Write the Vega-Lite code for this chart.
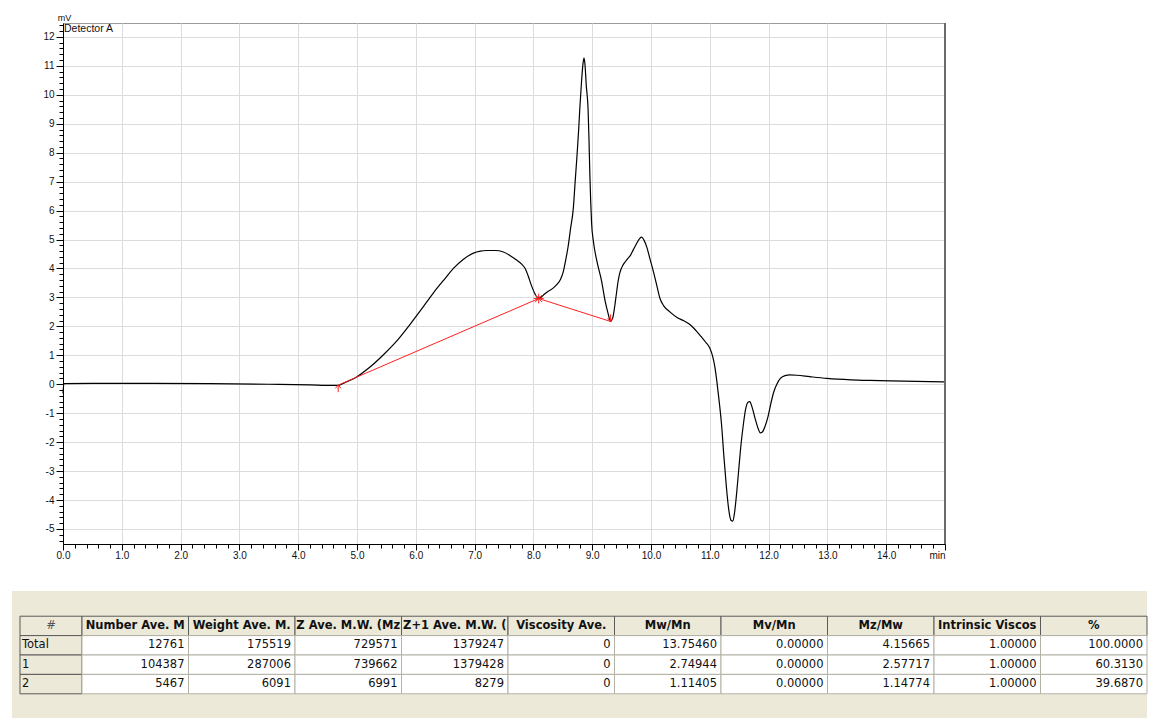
{
  "$schema": "https://vega.github.io/schema/vega-lite/v6.json",
  "padding": {"left": 12, "top": 12, "right": 0, "bottom": 0},
  "background": "white",
  "spacing": 30,
  "config": {"view": {"stroke": null}},
  "datasets": {
    "trace": [
      {"t": 0, "mV": -0.32}, {"t": 0.015, "mV": 0.02}, {"t": 0.5, "mV": 0.03}, {"t": 1.5, "mV": 0.03},
      {"t": 2.5, "mV": 0.02}, {"t": 3.5, "mV": 0.0}, {"t": 4.2, "mV": -0.02}, {"t": 4.55, "mV": -0.04},
      {"t": 4.68, "mV": -0.04}, {"t": 4.8, "mV": 0.06}, {"t": 5.0, "mV": 0.26}, {"t": 5.2, "mV": 0.56},
      {"t": 5.45, "mV": 1.02}, {"t": 5.7, "mV": 1.55}, {"t": 5.9, "mV": 2.06}, {"t": 6.1, "mV": 2.6},
      {"t": 6.3, "mV": 3.16}, {"t": 6.5, "mV": 3.66}, {"t": 6.64, "mV": 4.0}, {"t": 6.8, "mV": 4.3},
      {"t": 6.98, "mV": 4.53}, {"t": 7.1, "mV": 4.6}, {"t": 7.2, "mV": 4.62}, {"t": 7.35, "mV": 4.62},
      {"t": 7.49, "mV": 4.57}, {"t": 7.6, "mV": 4.45}, {"t": 7.72, "mV": 4.28}, {"t": 7.8, "mV": 4.15},
      {"t": 7.86, "mV": 4.0}, {"t": 7.91, "mV": 3.75}, {"t": 7.96, "mV": 3.45}, {"t": 8.02, "mV": 3.15},
      {"t": 8.07, "mV": 3.0}, {"t": 8.12, "mV": 3.0}, {"t": 8.19, "mV": 3.12}, {"t": 8.26, "mV": 3.22},
      {"t": 8.34, "mV": 3.33}, {"t": 8.4, "mV": 3.45}, {"t": 8.46, "mV": 3.62}, {"t": 8.51, "mV": 3.9},
      {"t": 8.55, "mV": 4.3}, {"t": 8.59, "mV": 4.75}, {"t": 8.63, "mV": 5.35}, {"t": 8.68, "mV": 6.1},
      {"t": 8.71, "mV": 7.0}, {"t": 8.74, "mV": 7.85}, {"t": 8.77, "mV": 8.8}, {"t": 8.79, "mV": 9.55},
      {"t": 8.82, "mV": 10.5}, {"t": 8.845, "mV": 11.1}, {"t": 8.86, "mV": 11.27}, {"t": 8.875, "mV": 11.1},
      {"t": 8.9, "mV": 10.3}, {"t": 8.93, "mV": 9.5}, {"t": 8.945, "mV": 8.5}, {"t": 8.96, "mV": 7.25},
      {"t": 8.975, "mV": 6.3}, {"t": 8.99, "mV": 5.55}, {"t": 9.02, "mV": 4.94}, {"t": 9.08, "mV": 4.25},
      {"t": 9.16, "mV": 3.56}, {"t": 9.22, "mV": 2.87}, {"t": 9.27, "mV": 2.45}, {"t": 9.31, "mV": 2.17},
      {"t": 9.35, "mV": 2.3}, {"t": 9.38, "mV": 2.65}, {"t": 9.41, "mV": 3.1}, {"t": 9.44, "mV": 3.55},
      {"t": 9.47, "mV": 3.85}, {"t": 9.5, "mV": 4.02}, {"t": 9.55, "mV": 4.2}, {"t": 9.6, "mV": 4.33},
      {"t": 9.65, "mV": 4.45}, {"t": 9.7, "mV": 4.65}, {"t": 9.76, "mV": 4.88}, {"t": 9.81, "mV": 5.04},
      {"t": 9.84, "mV": 5.08}, {"t": 9.88, "mV": 4.98}, {"t": 9.93, "mV": 4.73}, {"t": 9.98, "mV": 4.35},
      {"t": 10.04, "mV": 3.9}, {"t": 10.1, "mV": 3.4}, {"t": 10.15, "mV": 2.98}, {"t": 10.22, "mV": 2.7},
      {"t": 10.32, "mV": 2.5}, {"t": 10.45, "mV": 2.3}, {"t": 10.55, "mV": 2.2}, {"t": 10.65, "mV": 2.08},
      {"t": 10.72, "mV": 1.95}, {"t": 10.78, "mV": 1.82}, {"t": 10.85, "mV": 1.65}, {"t": 10.93, "mV": 1.45},
      {"t": 11.0, "mV": 1.25}, {"t": 11.05, "mV": 0.95}, {"t": 11.09, "mV": 0.55}, {"t": 11.12, "mV": 0.1},
      {"t": 11.16, "mV": -0.6}, {"t": 11.2, "mV": -1.4}, {"t": 11.24, "mV": -2.5}, {"t": 11.28, "mV": -3.5},
      {"t": 11.32, "mV": -4.3}, {"t": 11.36, "mV": -4.7}, {"t": 11.39, "mV": -4.73}, {"t": 11.42, "mV": -4.45},
      {"t": 11.45, "mV": -3.9}, {"t": 11.49, "mV": -3.0}, {"t": 11.53, "mV": -2.1}, {"t": 11.57, "mV": -1.4},
      {"t": 11.61, "mV": -0.85}, {"t": 11.65, "mV": -0.62}, {"t": 11.68, "mV": -0.6}, {"t": 11.72, "mV": -0.8},
      {"t": 11.77, "mV": -1.18}, {"t": 11.82, "mV": -1.52}, {"t": 11.86, "mV": -1.68}, {"t": 11.89, "mV": -1.66},
      {"t": 11.94, "mV": -1.45}, {"t": 11.99, "mV": -1.12}, {"t": 12.04, "mV": -0.65}, {"t": 12.09, "mV": -0.25},
      {"t": 12.14, "mV": 0.0}, {"t": 12.2, "mV": 0.2}, {"t": 12.28, "mV": 0.3}, {"t": 12.36, "mV": 0.32},
      {"t": 12.48, "mV": 0.31}, {"t": 12.7, "mV": 0.26}, {"t": 12.99, "mV": 0.2}, {"t": 13.4, "mV": 0.15},
      {"t": 13.72, "mV": 0.13}, {"t": 14.3, "mV": 0.11}, {"t": 15.0, "mV": 0.08}
    ],
    "baseline": [
      {"t": 4.68, "mV": -0.03, "kind": "start"},
      {"t": 8.09, "mV": 2.96, "kind": "mid"},
      {"t": 9.31, "mV": 2.17, "kind": "end"}
    ],
    "headers": [
      {"row": "#", "col": "c1", "label": "Number Ave. M"},
      {"row": "#", "col": "c2", "label": "Weight Ave. M."},
      {"row": "#", "col": "c3", "label": "Z Ave. M.W. (Mz"},
      {"row": "#", "col": "c4", "label": "Z+1 Ave. M.W. ("},
      {"row": "#", "col": "c5", "label": "Viscosity Ave."},
      {"row": "#", "col": "c6", "label": "Mw/Mn"},
      {"row": "#", "col": "c7", "label": "Mv/Mn"},
      {"row": "#", "col": "c8", "label": "Mz/Mw"},
      {"row": "#", "col": "c9", "label": "Intrinsic Viscos"},
      {"row": "#", "col": "c10", "label": "%"}
    ],
    "rowlabels": [
      {"row": "#", "col": "#", "label": "#"},
      {"row": "Total", "col": "#", "label": "Total"},
      {"row": "1", "col": "#", "label": "1"},
      {"row": "2", "col": "#", "label": "2"}
    ],
    "cells": [
      {"row": "Total", "col": "c1", "value": "12761"},
      {"row": "Total", "col": "c2", "value": "175519"},
      {"row": "Total", "col": "c3", "value": "729571"},
      {"row": "Total", "col": "c4", "value": "1379247"},
      {"row": "Total", "col": "c5", "value": "0"},
      {"row": "Total", "col": "c6", "value": "13.75460"},
      {"row": "Total", "col": "c7", "value": "0.00000"},
      {"row": "Total", "col": "c8", "value": "4.15665"},
      {"row": "Total", "col": "c9", "value": "1.00000"},
      {"row": "Total", "col": "c10", "value": "100.0000"},
      {"row": "1", "col": "c1", "value": "104387"},
      {"row": "1", "col": "c2", "value": "287006"},
      {"row": "1", "col": "c3", "value": "739662"},
      {"row": "1", "col": "c4", "value": "1379428"},
      {"row": "1", "col": "c5", "value": "0"},
      {"row": "1", "col": "c6", "value": "2.74944"},
      {"row": "1", "col": "c7", "value": "0.00000"},
      {"row": "1", "col": "c8", "value": "2.57717"},
      {"row": "1", "col": "c9", "value": "1.00000"},
      {"row": "1", "col": "c10", "value": "60.3130"},
      {"row": "2", "col": "c1", "value": "5467"},
      {"row": "2", "col": "c2", "value": "6091"},
      {"row": "2", "col": "c3", "value": "6991"},
      {"row": "2", "col": "c4", "value": "8279"},
      {"row": "2", "col": "c5", "value": "0"},
      {"row": "2", "col": "c6", "value": "1.11405"},
      {"row": "2", "col": "c7", "value": "0.00000"},
      {"row": "2", "col": "c8", "value": "1.14774"},
      {"row": "2", "col": "c9", "value": "1.00000"},
      {"row": "2", "col": "c10", "value": "39.6870"}
    ]
  },
  "vconcat": [
    {
      "spacing": 0,
      "hconcat": [
        {
          "width": 30, "height": 10,
          "data": {"values": [{}]},
          "mark": {"type": "text", "text": ""},
          "view": {"stroke": null}
        },
        {
          "width": 882, "height": 521,
          "view": {"stroke": "#9a9a9a", "fill": "white"},
          "layer": [
            {
              "data": {"name": "trace"},
              "mark": {"type": "line", "color": "black", "strokeWidth": 1.2, "interpolate": "monotone"},
              "encoding": {
                "x": {
                  "field": "t", "type": "quantitative",
                  "scale": {"domain": [0, 15], "nice": false, "zero": false},
                  "axis": {
                    "title": null,
                    "tickCount": 1000,
                    "values": [0,0.2,0.4,0.6,0.8,1,1.2,1.4,1.6,1.8,2,2.2,2.4,2.6,2.8,3,3.2,3.4,3.6,3.8,4,4.2,4.4,4.6,4.8,5,5.2,5.4,5.6,5.8,6,6.2,6.4,6.6,6.8,7,7.2,7.4,7.6,7.8,8,8.2,8.4,8.6,8.8,9,9.2,9.4,9.6,9.8,10,10.2,10.4,10.6,10.8,11,11.2,11.4,11.6,11.8,12,12.2,12.4,12.6,12.8,13,13.2,13.4,13.6,13.8,14,14.2,14.4,14.6,14.8,15],
                    "labelExpr": "datum.value > 14.99 ? 'min' : (abs(datum.value - round(datum.value)) < 0.001 ? format(datum.value, '.1f') : '')",
                    "labelOverlap": false,
                    "labelFlush": false,
                    "labelAlign": {"condition": {"test": "datum.value > 14.99", "value": "right"}, "value": "center"},
                    "labelFont": "Liberation Sans",
                    "labelFontSize": 10,
                    "labelColor": "#111",
                    "labelPadding": 0,
                    "domainColor": "black",
                    "domainWidth": 1,
                    "tickColor": "black",
                    "tickSize": {"condition": {"test": "abs(datum.value - round(datum.value)) < 0.001", "value": 6}, "value": 4},
                    "grid": true,
                    "gridColor": "#dcdcdc",
                    "gridOpacity": {"condition": {"test": "abs(datum.value - round(datum.value)) < 0.001 && datum.value > 0.01 && datum.value < 14.99", "value": 1}, "value": 0}
                  }
                },
                "y": {
                  "field": "mV", "type": "quantitative",
                  "scale": {"domain": [-5.52, 12.48], "nice": false, "zero": false},
                  "axis": {
                    "title": "mV",
                    "titleAngle": 0,
                    "titleX": 1,
                    "titleY": -3,
                    "titleAlign": "center",
                    "titleBaseline": "alphabetic",
                    "titleFont": "Liberation Sans",
                    "titleFontSize": 9,
                    "titleFontWeight": "normal",
                    "titleColor": "#111",
                    "tickCount": 1000,
                    "values": [-5.4,-5.2,-5,-4.8,-4.6,-4.4,-4.2,-4,-3.8,-3.6,-3.4,-3.2,-3,-2.8,-2.6,-2.4,-2.2,-2,-1.8,-1.6,-1.4,-1.2,-1,-0.8,-0.6,-0.4,-0.2,0,0.2,0.4,0.6,0.8,1,1.2,1.4,1.6,1.8,2,2.2,2.4,2.6,2.8,3,3.2,3.4,3.6,3.8,4,4.2,4.4,4.6,4.8,5,5.2,5.4,5.6,5.8,6,6.2,6.4,6.6,6.8,7,7.2,7.4,7.6,7.8,8,8.2,8.4,8.6,8.8,9,9.2,9.4,9.6,9.8,10,10.2,10.4,10.6,10.8,11,11.2,11.4,11.6,11.8,12,12.2,12.4],
                    "labelExpr": "abs(datum.value - round(datum.value)) < 0.001 ? '' + round(datum.value) : ''",
                    "labelOverlap": false,
                    "labelFlush": false,
                    "labelFont": "Liberation Sans",
                    "labelFontSize": 10,
                    "labelColor": "#111",
                    "labelPadding": 2,
                    "domainColor": "black",
                    "domainWidth": 1,
                    "tickColor": "black",
                    "tickSize": {"condition": {"test": "abs(datum.value - round(datum.value)) < 0.001", "value": 7}, "value": 4},
                    "grid": true,
                    "gridColor": "#dcdcdc",
                    "gridOpacity": {"condition": {"test": "abs(datum.value - round(datum.value)) < 0.001", "value": 1}, "value": 0}
                  }
                }
              }
            },
            {
              "data": {"name": "baseline"},
              "mark": {"type": "line", "color": "#ff2020", "strokeWidth": 1},
              "encoding": {
                "x": {"field": "t", "type": "quantitative"},
                "y": {"field": "mV", "type": "quantitative"}
              }
            },
            {
              "data": {"name": "baseline"},
              "mark": {"type": "point", "filled": false, "color": "#ff2020", "strokeWidth": 1, "size": 200, "opacity": 1},
              "encoding": {
                "x": {"field": "t", "type": "quantitative"},
                "y": {"field": "mV", "type": "quantitative"},
                "shape": {
                  "field": "kind", "type": "nominal", "legend": null,
                  "scale": {
                    "domain": ["start", "mid", "end"],
                    "range": [
                      "M0,0L0,1M-0.4,0.45L0,0L0.4,0.45",
                      "M-0.7,0L0.7,0M0,-0.7L0,0.7M-0.5,-0.5L0.5,0.5M-0.5,0.5L0.5,-0.5",
                      "M0,0L0,-1M-0.4,-0.45L0,0L0.4,-0.45"
                    ]
                  }
                }
              }
            },
            {
              "data": {"values": [{}]},
              "mark": {"type": "rule", "color": "#6a6a6a", "strokeWidth": 2},
              "encoding": {"x": {"datum": 15}}
            },
            {
              "data": {"values": [{"label": "Detector A"}]},
              "mark": {"type": "text", "align": "left", "baseline": "top", "dx": 1, "dy": 1, "font": "Liberation Sans", "fontSize": 10.5, "color": "#111"},
              "encoding": {
                "x": {"datum": 0},
                "y": {"datum": 12.48},
                "text": {"field": "label"}
              }
            }
          ]
        }
      ]
    },
    {
      "spacing": 0,
      "bounds": "flush",
      "hconcat": [
        {
          "width": 70, "height": 128,
          "view": {"fill": "#ECE9D8", "stroke": null},
          "data": {"name": "rowlabels"},
          "encoding": {
            "x": {"field": "col", "type": "nominal", "axis": null, "scale": {"domain": ["#"], "paddingInner": 0, "paddingOuter": 0.0645, "align": 1}},
            "y": {"field": "row", "type": "nominal", "axis": null, "scale": {"domain": ["_top", "#", "Total", "1", "2", "_bottom"], "paddingInner": 0, "paddingOuter": 0.3}}
          },
          "layer": [
            {"mark": {"type": "rect", "fill": "#ECE9D8", "stroke": "#5a5a5a", "strokeWidth": 1}},
            {
              "transform": [{"filter": "datum.row == '#'"}],
              "mark": {"type": "text", "align": "center", "baseline": "middle", "font": "DejaVu Sans", "fontSize": 11.5, "color": "#555"},
              "encoding": {"text": {"field": "label"}}
            },
            {
              "transform": [{"filter": "datum.row != '#'"}],
              "mark": {"type": "text", "align": "left", "baseline": "middle", "dx": 2, "font": "DejaVu Sans", "fontSize": 11.5, "color": "#111"},
              "encoding": {
                "x": {"field": "col", "type": "nominal", "bandPosition": 0},
                "text": {"field": "label"}
              }
            }
          ]
        },
        {
          "width": 1065, "height": 128,
          "view": {"fill": "#ECE9D8", "stroke": null},
          "encoding": {
            "x": {"field": "col", "type": "nominal", "axis": null, "scale": {"domain": ["c1","c2","c3","c4","c5","c6","c7","c8","c9","c10"], "paddingInner": 0, "paddingOuter": 0}},
            "y": {"field": "row", "type": "nominal", "axis": null, "scale": {"domain": ["_top", "#", "Total", "1", "2", "_bottom"], "paddingInner": 0, "paddingOuter": 0.3}}
          },
          "layer": [
            {"data": {"name": "headers"}, "mark": {"type": "rect", "fill": "#ECE9D8", "stroke": "#5a5a5a", "strokeWidth": 1}},
            {"data": {"name": "cells"}, "mark": {"type": "rect", "fill": "white", "stroke": "#b4b1a5", "strokeWidth": 1}},
            {
              "data": {"name": "headers"},
              "mark": {"type": "text", "align": "center", "baseline": "middle", "font": "DejaVu Sans", "fontSize": 11.5, "fontWeight": "bold", "color": "#111"},
              "encoding": {"text": {"field": "label"}}
            },
            {
              "data": {"name": "cells"},
              "mark": {"type": "text", "align": "right", "baseline": "middle", "dx": -4, "font": "DejaVu Sans", "fontSize": 11.5, "color": "#111"},
              "encoding": {
                "x": {"field": "col", "type": "nominal", "bandPosition": 1},
                "text": {"field": "value"}
              }
            }
          ]
        }
      ]
    }
  ]
}
